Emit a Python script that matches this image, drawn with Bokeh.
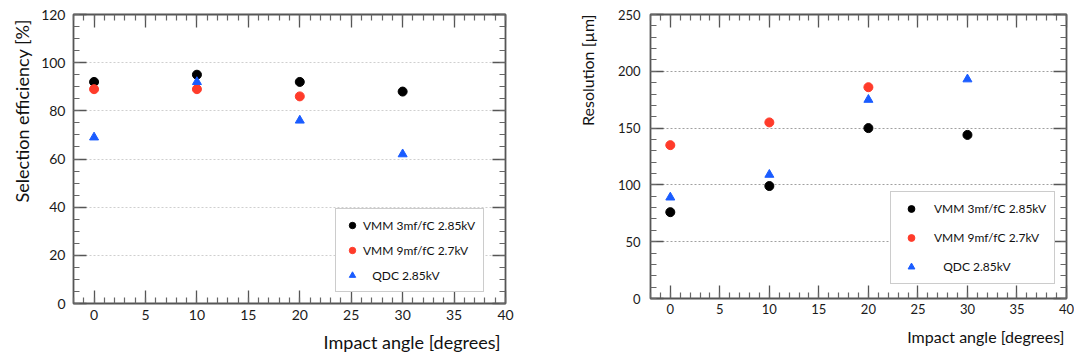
from bokeh.plotting import figure
from bokeh.models import LinearAxis, SingleIntervalTicker, Title, Legend, LegendItem, Range1d
from bokeh.layouts import row
from bokeh.embed import file_html
from bokeh.resources import INLINE

# ---------------- data ----------------
angles_all = [0, 10, 20, 30]
angles_vmm9 = [0, 10, 20]

series_names = ["VMM 3mf/fC 2.85kV", "VMM 9mf/fC 2.7kV", "\u00a0\u00a0\u00a0QDC 2.85kV"]

eff_vmm3 = [92, 95, 92, 88]
eff_vmm9 = [89, 89, 86]
eff_qdc = [69, 92, 76, 62]

res_vmm3 = [76, 99, 150, 144]
res_vmm9 = [135, 155, 186]
res_qdc = [89, 109, 175, 193]

FONT = "Lato"
BLACK = "#000000"
RED = "#ff3b2a"
BLUE = "#1a5cff"


def style_ticks(ax):
    ax.axis_line_color = None
    ax.major_tick_in = 13
    ax.major_tick_out = 0
    ax.minor_tick_in = 6
    ax.minor_tick_out = 0
    ax.major_tick_line_color = "#555555"
    ax.minor_tick_line_color = "#666666"
    ax.major_tick_line_width = 1.3
    ax.minor_tick_line_width = 1.2


def make_panel(width, height, borders, y_end, y_interval, y_minor, ylabel, xlabel,
               data, tick_font, title_font, ytitle_standoff, xtitle_standoff, xtitle_offset,
               legend_cfg, ylab_standoff, xlab_standoff, grid_color):
    left, right, top, bottom = borders
    p = figure(width=width, height=height, output_backend="svg", toolbar_location=None,
               x_range=Range1d(-2, 40), y_range=Range1d(0, y_end),
               min_border_left=left, min_border_right=right,
               min_border_top=top, min_border_bottom=bottom,
               background_fill_color="white", border_fill_color="white")
    p.outline_line_color = "#555555"
    p.outline_line_width = 1.8
    p.outline_line_alpha = 1.0

    xt = SingleIntervalTicker(interval=5, num_minor_ticks=5)
    yt = SingleIntervalTicker(interval=y_interval, num_minor_ticks=y_minor)

    p.xaxis.ticker = xt
    p.yaxis.ticker = yt
    p.xgrid.grid_line_color = None
    p.ygrid.ticker = yt
    p.ygrid.grid_line_color = grid_color
    p.ygrid.grid_line_dash = "2 2"
    p.ygrid.grid_line_width = 1.2

    for ax in [p.xaxis[0], p.yaxis[0]]:
        style_ticks(ax)
        ax.major_label_text_font = FONT
        ax.major_label_text_font_size = tick_font
        ax.major_label_text_color = "#1a1a1a"
    p.yaxis[0].major_label_standoff = ylab_standoff
    p.xaxis[0].major_label_standoff = xlab_standoff

    for loc, ticker in [("above", xt), ("right", yt)]:
        ax = LinearAxis(ticker=ticker)
        style_ticks(ax)
        ax.major_label_text_font_size = "1px"
        ax.major_label_text_color = None
        ax.major_label_standoff = 0
        p.add_layout(ax, loc)

    ys_vmm3, ys_vmm9, ys_qdc = data
    r1 = p.scatter(angles_all, ys_vmm3, marker="circle", size=9, color=BLACK)
    r2 = p.scatter(angles_vmm9, ys_vmm9, marker="circle", size=9, color=RED)
    r3 = p.scatter(angles_all, ys_qdc, marker="triangle", size=9, color=BLUE)

    pad, gw, gh, lh, sp, standoff, lfont, loc = legend_cfg
    legend = Legend(items=[LegendItem(label=series_names[0], renderers=[r1]),
                           LegendItem(label=series_names[1], renderers=[r2]),
                           LegendItem(label=series_names[2], renderers=[r3])],
                    location=loc, padding=pad, glyph_width=gw, glyph_height=gh,
                    label_height=lh, spacing=sp, label_standoff=standoff,
                    label_text_font=FONT, label_text_font_size=lfont,
                    label_text_color="#111111",
                    border_line_color="#999999", border_line_width=1.5,
                    background_fill_color="white", background_fill_alpha=1.0, margin=0)
    p.add_layout(legend, "center")

    ty = Title(text=ylabel, align="right", text_font=FONT, text_font_size=title_font,
               text_font_style="normal", standoff=ytitle_standoff, text_color="#111111")
    p.add_layout(ty, "left")

    tx = Title(text=xlabel, align="right", text_font=FONT, text_font_size=title_font,
               text_font_style="normal", standoff=xtitle_standoff, offset=xtitle_offset,
               text_color="#111111")
    p.add_layout(tx, "below")
    return p


p1 = make_panel(540, 363, (73, 35, 14, 60), 120, 20, 4,
                "Selection  efficiency [%]", "Impact angle [degrees]",
                (eff_vmm3, eff_vmm9, eff_qdc), "14px", "18px", 12, 13, 5,
                (8, 16, 16, 16, 9, 3, "12px", (262, 11)), 8, 6, "#cfcfcf")

p2 = make_panel(534, 358, (110, 8, 14, 60), 250, 50, 5,
                "Resolution [\u00b5m]", "Impact angle [degrees]",
                (res_vmm3, res_vmm9, res_qdc), "13px", "16px", 36, 16, 2,
                (8, 24, 17, 17, 12, 11, "12px", (240, 14)), 10, 5, "#a0a0a0")

layout = row(p1, p2)
open("out.html", "w").write(file_html(layout, INLINE))
